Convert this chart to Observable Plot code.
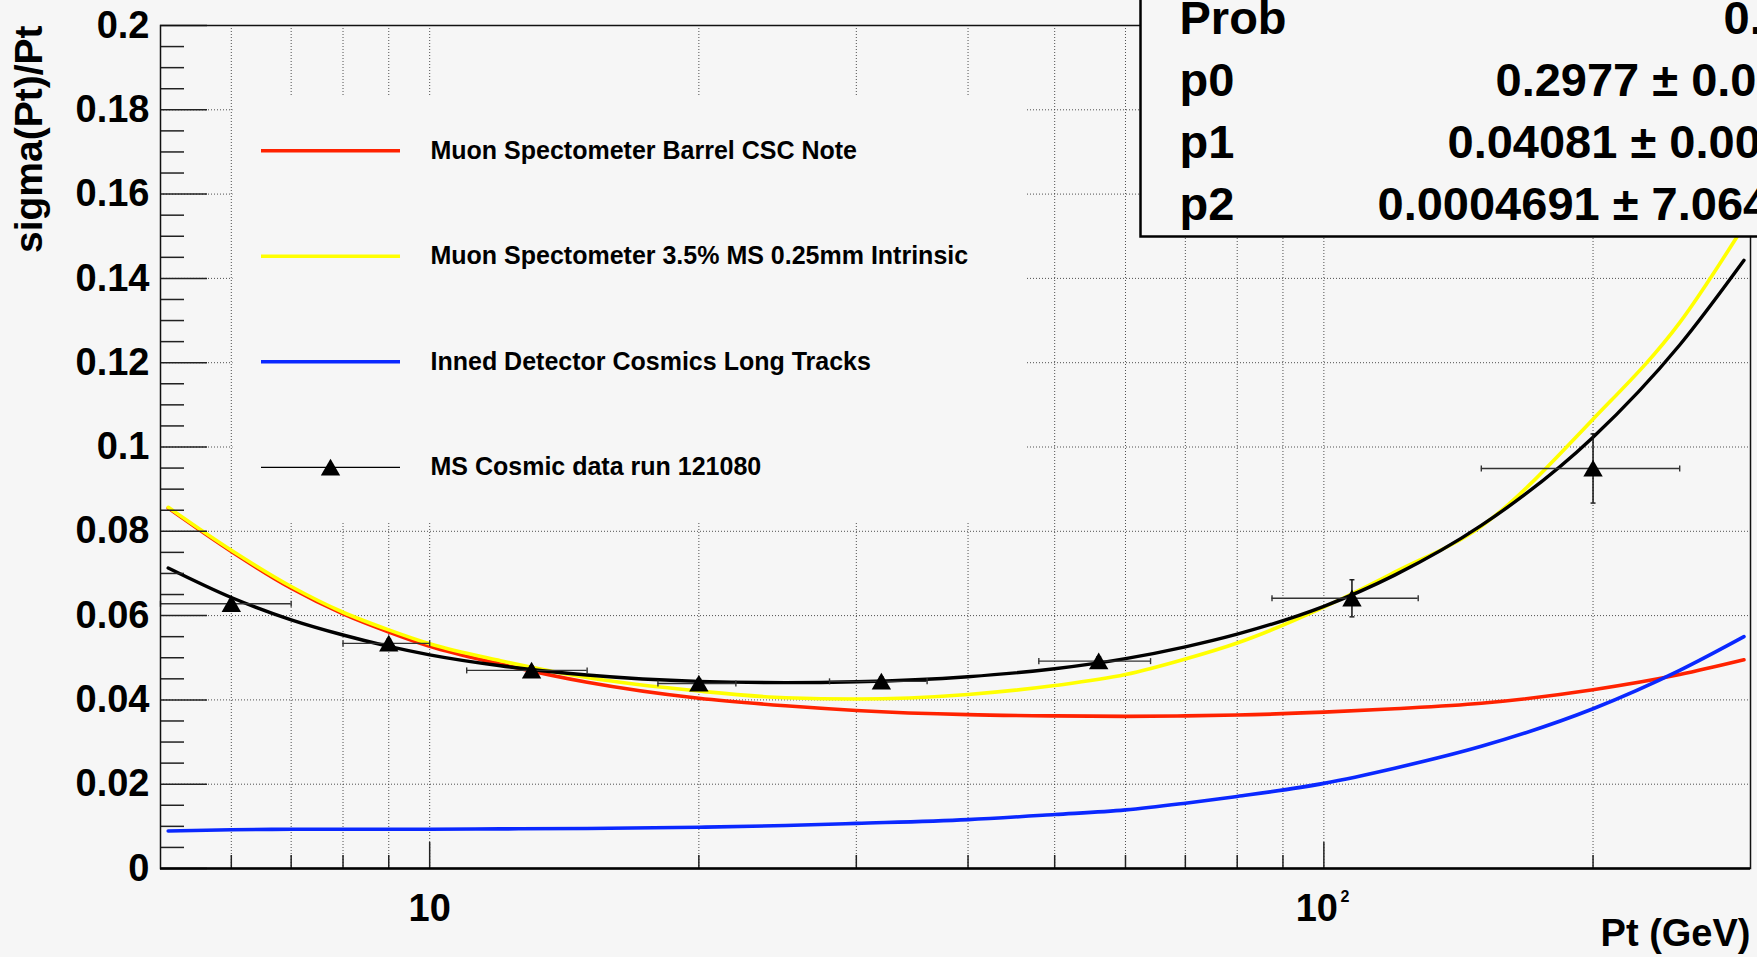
<!DOCTYPE html>
<html>
<head>
<meta charset="utf-8">
<script src="https://cdn.jsdelivr.net/npm/d3@7"></script>
<script src="https://cdn.jsdelivr.net/npm/@observablehq/plot@0.6"></script>
<style>
  html, body { margin: 0; padding: 0; background: #f6f6f6; overflow: hidden; }
  #chart svg { display: block; }
  #chart text { font-weight: bold; }
</style>
</head>
<body>
<div id="chart"></div>
<script>
// Pt sampling points (GeV) for the resolution curves
const ptGrid = [5.1, 6, 7, 8, 9, 10, 12, 15, 20, 25, 30, 40, 50, 60, 70, 80, 100, 120, 150, 200, 250, 295];

// sigma(Pt)/Pt for each curve at ptGrid
const barrelCscNote = [0.0855, 0.0752, 0.0665, 0.0604, 0.0561, 0.0527, 0.0485, 0.0442, 0.0404, 0.0386, 0.0375, 0.0365, 0.0362, 0.0361, 0.0362, 0.0364, 0.0371, 0.0379, 0.0392, 0.0424, 0.0460, 0.0495];
const msIntrinsic = [0.0857, 0.0755, 0.0669, 0.0608, 0.0566, 0.0533, 0.0493, 0.0453, 0.0421, 0.0405, 0.0402, 0.0413, 0.0434, 0.0460, 0.0497, 0.0535, 0.0620, 0.0703, 0.0812, 0.1066, 0.1295, 0.1525];
const innerDetector = [0.0089, 0.0092, 0.0093, 0.0093, 0.0093, 0.0093, 0.0094, 0.0095, 0.0098, 0.0102, 0.0107, 0.0116, 0.0128, 0.0139, 0.0155, 0.0171, 0.0202, 0.0238, 0.0290, 0.0379, 0.0470, 0.0550];
const cosmicFit = [0.0713, 0.0643, 0.0590, 0.0554, 0.0527, 0.0507, 0.0481, 0.0459, 0.0444, 0.0441, 0.0443, 0.0455, 0.0474, 0.0498, 0.0526, 0.0556, 0.0622, 0.0696, 0.0814, 0.1023, 0.1242, 0.1443];

// MS cosmic data, run 121080: bin centre, bin edges, resolution and its error
const dataPt = [6, 9, 13, 20, 32, 56, 107.5, 200];
const dataPtLow = [5, 8, 11, 18, 28, 48, 87.5, 150];
const dataPtHigh = [7, 10, 15, 22, 36, 64, 127.5, 250];
const dataSigma = [0.0628, 0.0534, 0.0470, 0.0439, 0.0444, 0.0492, 0.0641, 0.0949];
const dataSigmaErr = [0.001, 0.001, 0.001, 0.001, 0.001, 0.001, 0.0044, 0.0082];

const legendLabels = [
  "Muon Spectometer Barrel CSC Note",
  "Muon Spectometer 3.5% MS 0.25mm Intrinsic",
  "Inned Detector Cosmics Long Tracks",
  "MS Cosmic data run 121080"
];

// fit statistics
const statsNames = ["Prob", "p0", "p1", "p2"];
const statsValues = ["0.", "0.2977 \u00b1 0.0", "0.04081 \u00b1 0.00", "0.0004691 \u00b1 7.064"];

// axis ticks
const yMajor = [0, 0.02, 0.04, 0.06, 0.08, 0.1, 0.12, 0.14, 0.16, 0.18, 0.2];
const yMinor = d3.range(1, 40).map(k => k * 0.005).filter(v => Math.abs(v / 0.02 - Math.round(v / 0.02)) > 1e-6);
const xMajor = [10, 100];
const xMinor = [6, 7, 8, 9, 20, 30, 40, 50, 60, 70, 80, 90, 200];

// ---- layout ----
const W = 1757, H = 957;
const mL = 160, mR = 7, mT = 25, mB = 89;
const frameW = W - mL - mR, frameH = H - mT - mB;
const bg = "#f6f6f6";
const RED = "#ff2200", YELLOW = "#ffff00", BLUE = "#0a28ff", BLACK = "#000000";
const colors = [RED, YELLOW, BLUE, BLACK];

const series = (values) => ptGrid.map((pt, i) => ({pt, v: values[i]}));
const points = dataPt.map((pt, i) => ({pt, lo: dataPtLow[i], hi: dataPtHigh[i], y: dataSigma[i], err: dataSigmaErr[i]}));

// bar-shaped symbols for error bar end caps
const vCap = {draw(ctx, size) { const h = Math.sqrt(size); ctx.moveTo(0, -h / 2); ctx.lineTo(0, h / 2); }};
const hCap = {draw(ctx, size) { const h = Math.sqrt(size); ctx.moveTo(-h / 2, 0); ctx.lineTo(h / 2, 0); }};

const gridStyle = {stroke: "#333", strokeWidth: 1, strokeDasharray: "1,2", strokeOpacity: 0.85};
const legendRowY = i => 0.1703 - i * 0.02505;
const statsRowY = i => 0.2015 - i * 0.0147;
const statsValueDx = [1563, 1335, 1287, 1217];
const markerR = 7.2;

const marks = [
  // dotted grid
  Plot.ruleX([...xMinor, ...xMajor], {x: d => d, ...gridStyle}),
  Plot.ruleY(yMajor.slice(1, -1), {y: d => d, ...gridStyle}),

  // legend panel hides the grid behind it
  Plot.frame({fill: bg, stroke: "none", insetLeft: 72, insetRight: 725, insetTop: 71, insetBottom: 346}),

  // resolution curves
  Plot.line(series(barrelCscNote), {x: "pt", y: "v", stroke: RED, strokeWidth: 3.6, curve: "monotone-x"}),
  Plot.line(series(msIntrinsic), {x: "pt", y: "v", stroke: YELLOW, strokeWidth: 3.6, curve: "monotone-x"}),
  Plot.line(series(innerDetector), {x: "pt", y: "v", stroke: BLUE, strokeWidth: 3.6, curve: "monotone-x"}),
  Plot.line(series(cosmicFit), {x: "pt", y: "v", stroke: BLACK, strokeWidth: 3.4, curve: "monotone-x"}),

  // data points with error bars
  Plot.ruleY(points, {y: "y", x1: "lo", x2: "hi", stroke: "#333", strokeWidth: 1.4}),
  Plot.dot(points, {x: "lo", y: "y", symbol: vCap, r: 3.4, stroke: "#333", strokeWidth: 1.4, fill: "none"}),
  Plot.dot(points, {x: "hi", y: "y", symbol: vCap, r: 3.4, stroke: "#333", strokeWidth: 1.4, fill: "none"}),
  Plot.ruleX(points, {x: "pt", y1: d => d.y - d.err, y2: d => d.y + d.err, stroke: "#111", strokeWidth: 1.5}),
  Plot.dot(points, {x: "pt", y: d => d.y + d.err, symbol: hCap, r: 2.8, stroke: "#111", strokeWidth: 1.4, fill: "none"}),
  Plot.dot(points, {x: "pt", y: d => d.y - d.err, symbol: hCap, r: 2.8, stroke: "#111", strokeWidth: 1.4, fill: "none"}),
  Plot.dot(points, {x: "pt", y: "y", symbol: "triangle", r: markerR, dy: 2.5, fill: BLACK, stroke: "none"}),

  // legend entries
  ...legendLabels.map((label, i) => Plot.tickY([legendRowY(i)], {
    y: d => d, stroke: colors[i], strokeWidth: i < 3 ? 3.5 : 1.3, insetLeft: 101, insetRight: frameW - 240
  })),
  Plot.dot([legendRowY(3)], {y: d => d, frameAnchor: "left", dx: 170, dy: 2.5, symbol: "triangle", r: markerR, fill: BLACK, stroke: "none"}),
  Plot.text(legendLabels, {y: (d, i) => legendRowY(i), frameAnchor: "left", dx: 270, textAnchor: "start", text: d => d, fontSize: 25, fill: "#000"}),

  // axis ticks, drawn inward
  Plot.tickY(yMajor, {y: d => d, insetRight: frameW - 47, stroke: "#222", strokeWidth: 1.5}),
  Plot.tickY(yMinor, {y: d => d, insetRight: frameW - 24, stroke: "#222", strokeWidth: 1.5}),
  Plot.tickX(xMajor, {x: d => d, insetTop: frameH - 26, stroke: "#222", strokeWidth: 1.5}),
  Plot.tickX(xMinor, {x: d => d, insetTop: frameH - 13, stroke: "#222", strokeWidth: 1.5}),

  // frame and heavier bottom axis
  Plot.frame({stroke: "#111", strokeWidth: 1.5}),
  Plot.ruleY([0], {stroke: "#000", strokeWidth: 2.5}),

  // fit statistics box
  Plot.frame({fill: bg, stroke: "#000", strokeWidth: 2.5, insetLeft: 980, insetRight: -80, insetTop: -80, insetBottom: 632}),
  Plot.text(statsNames, {y: (d, i) => statsRowY(i), frameAnchor: "left", dx: 1019, textAnchor: "start", text: d => d, fontSize: 47, fill: "#000"}),
  ...statsValues.map((v, i) => Plot.text([v], {y: () => statsRowY(i), frameAnchor: "left", dx: statsValueDx[i], textAnchor: "start", text: d => d, fontSize: 47, fill: "#000"})),

  // tick labels: y decimals, x powers of ten
  Plot.text(yMajor, {y: d => d, frameAnchor: "left", dx: -11, textAnchor: "end", text: d => String(+d.toFixed(2)), fontSize: 38, fill: "#000"}),
  Plot.text([10], {x: d => d, frameAnchor: "bottom", dy: 52, text: () => "10", fontSize: 38, fill: "#000"}),
  Plot.text([100], {x: d => d, frameAnchor: "bottom", dy: 52, dx: -7, text: () => "10", fontSize: 38, fill: "#000"}),
  Plot.text([100], {x: d => d, frameAnchor: "bottom", dy: 33, dx: 21, text: () => "2", fontSize: 16, fill: "#000"}),

  // axis titles
  Plot.text(["sigma(Pt)/Pt"], {frameAnchor: "top-left", dx: -146, rotate: -90, textAnchor: "end", text: d => d, fontSize: 39, fill: "#000"}),
  Plot.text(["Pt (GeV)"], {frameAnchor: "bottom-right", dy: 77, textAnchor: "end", text: d => d, fontSize: 38, fill: "#000"})
];

const chart = Plot.plot({
  width: W,
  height: H,
  marginLeft: mL,
  marginRight: mR,
  marginTop: mT,
  marginBottom: mB,
  style: {background: bg, fontFamily: "'Liberation Sans', Arial, Helvetica, sans-serif", color: "#000"},
  x: {type: "log", domain: [5, 300], axis: null},
  y: {domain: [0, 0.2], axis: null},
  marks
});

document.getElementById("chart").appendChild(chart);
</script>
</body>
</html>
